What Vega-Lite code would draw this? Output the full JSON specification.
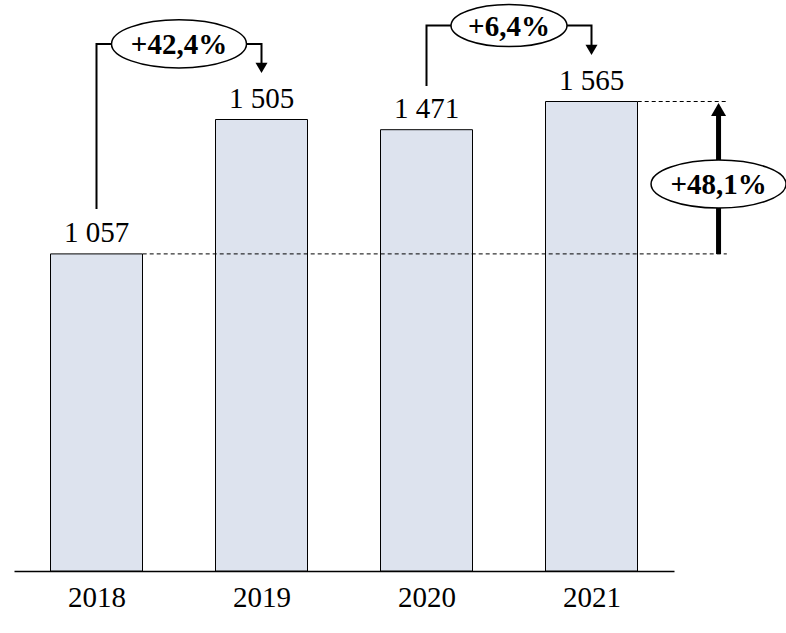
{
  "$schema": "https://vega.github.io/schema/vega-lite/v6.json",
  "width": 660,
  "height": 570,
  "autosize": {"type": "none"},
  "padding": {"left": 14, "top": 1, "right": 112, "bottom": 62},
  "background": "white",
  "config": {"view": {"stroke": null}, "font": "Liberation Serif"},
  "datasets": {
    "bars": [
      {"x": 2018, "y": 1057, "label": "1 057"},
      {"x": 2019, "y": 1505, "label": "1 505"},
      {"x": 2020, "y": 1471, "label": "1 471"},
      {"x": 2021, "y": 1565, "label": "1 565"}
    ],
    "dashes": [
      {"x": 2018.28, "x2": 2021.82, "y": 1057},
      {"x": 2021.28, "x2": 2021.82, "y": 1565}
    ],
    "brackets": [
      {"id": "a", "seq": 1, "x": 2018, "y": 1210},
      {"id": "a", "seq": 2, "x": 2018, "y": 1757},
      {"id": "a", "seq": 3, "x": 2019, "y": 1757},
      {"id": "a", "seq": 4, "x": 2019, "y": 1690},
      {"id": "b", "seq": 1, "x": 2020, "y": 1620},
      {"id": "b", "seq": 2, "x": 2020, "y": 1818},
      {"id": "b", "seq": 3, "x": 2021, "y": 1818},
      {"id": "b", "seq": 4, "x": 2021, "y": 1750}
    ],
    "heads": [
      {"x": 2019, "y": 1677},
      {"x": 2021, "y": 1737}
    ],
    "shaft": [
      {"x": 2021.77, "y": 1057, "y2": 1525}
    ],
    "uphead": [
      {"x": 2021.77, "y": 1538}
    ],
    "ellipses": [
      {"x": 2018.5, "y": 1757, "label": "+42,4%", "kind": "big"},
      {"x": 2020.5, "y": 1818, "label": "+6,4%", "kind": "small"},
      {"x": 2021.77, "y": 1290, "label": "+48,1%", "kind": "big"}
    ]
  },
  "encoding": {
    "x": {
      "field": "x",
      "type": "quantitative",
      "scale": {"domain": [2017.5, 2021.5], "nice": false, "zero": false, "padding": 0},
      "axis": {
        "values": [2018, 2019, 2020, 2021],
        "format": "d",
        "title": null,
        "grid": false,
        "ticks": false,
        "domainColor": "black",
        "domainWidth": 1.5,
        "labelFont": "Liberation Serif",
        "labelFontSize": 29,
        "labelColor": "black",
        "labelBaseline": "alphabetic",
        "labelPadding": 35,
        "labelFlush": false,
        "labelOverlap": false
      }
    },
    "y": {
      "field": "y",
      "type": "quantitative",
      "scale": {"domain": [0, 1900], "nice": false, "padding": 0},
      "axis": null
    }
  },
  "layer": [
    {
      "data": {"name": "bars"},
      "mark": {"type": "bar", "width": 92, "orient": "vertical", "fill": "#dde3ee", "stroke": "black", "strokeWidth": 1}
    },
    {
      "data": {"name": "bars"},
      "mark": {"type": "text", "dy": -12, "baseline": "alphabetic", "align": "center", "fontSize": 29, "font": "Liberation Serif", "color": "black"},
      "encoding": {"text": {"field": "label"}}
    },
    {
      "data": {"name": "dashes"},
      "mark": {"type": "rule", "strokeDash": [4, 3], "strokeWidth": 1, "color": "black"},
      "encoding": {"x2": {"field": "x2"}}
    },
    {
      "data": {"name": "brackets"},
      "mark": {"type": "line", "strokeWidth": 2, "color": "black", "strokeCap": "square"},
      "encoding": {"detail": {"field": "id"}, "order": {"field": "seq", "type": "quantitative"}}
    },
    {
      "data": {"name": "heads"},
      "mark": {"type": "point", "shape": "triangle-down", "size": 144, "filled": true, "color": "black", "opacity": 1}
    },
    {
      "data": {"name": "shaft"},
      "mark": {"type": "rule", "strokeWidth": 5, "color": "black"},
      "encoding": {"y2": {"field": "y2"}}
    },
    {
      "data": {"name": "uphead"},
      "mark": {"type": "point", "shape": "triangle-up", "size": 225, "filled": true, "color": "black", "opacity": 1}
    },
    {
      "data": {"name": "ellipses"},
      "transform": [{"filter": "datum.kind === 'big'"}],
      "mark": {"type": "point", "shape": "M-1,0A1,0.356,0,1,1,1,0A1,0.356,0,1,1,-1,0Z", "size": 18225, "filled": true, "fill": "white", "stroke": "black", "strokeWidth": 1.5, "opacity": 1}
    },
    {
      "data": {"name": "ellipses"},
      "transform": [{"filter": "datum.kind === 'small'"}],
      "mark": {"type": "point", "shape": "M-1,0A1,0.362,0,1,1,1,0A1,0.362,0,1,1,-1,0Z", "size": 13456, "filled": true, "fill": "white", "stroke": "black", "strokeWidth": 1.5, "opacity": 1}
    },
    {
      "data": {"name": "ellipses"},
      "mark": {"type": "text", "baseline": "middle", "align": "center", "dy": 1, "fontSize": 29, "fontWeight": "bold", "font": "Liberation Serif", "color": "black"},
      "encoding": {"text": {"field": "label"}}
    }
  ]
}
